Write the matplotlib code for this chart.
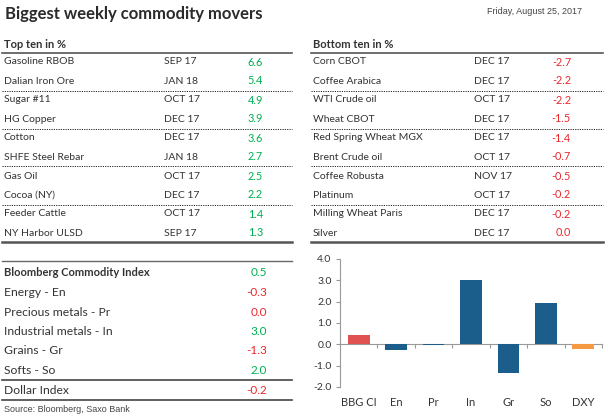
import matplotlib
matplotlib.use("Agg")
import matplotlib.pyplot as plt
from matplotlib.lines import Line2D

W, H = 608, 417

top_names = ["Gasoline RBOB", "Dalian Iron Ore", "Sugar #11", "HG Copper", "Cotton",
             "SHFE Steel Rebar", "Gas Oil", "Cocoa (NY)", "Feeder Cattle", "NY Harbor ULSD"]
top_dates = ["SEP 17", "JAN 18", "OCT 17", "DEC 17", "DEC 17",
             "JAN 18", "OCT 17", "DEC 17", "OCT 17", "SEP 17"]
top_values = [6.6, 5.4, 4.9, 3.9, 3.6, 2.7, 2.5, 2.2, 1.4, 1.3]

bottom_names = ["Corn CBOT", "Coffee Arabica", "WTI Crude oil", "Wheat CBOT",
                "Red Spring Wheat MGX", "Brent Crude oil", "Coffee Robusta", "Platinum",
                "Milling Wheat Paris", "Silver"]
bottom_dates = ["DEC 17", "DEC 17", "OCT 17", "DEC 17", "DEC 17",
                "OCT 17", "NOV 17", "OCT 17", "DEC 17", "DEC 17"]
bottom_values = [-2.7, -2.2, -2.2, -1.5, -1.4, -0.7, -0.5, -0.2, -0.2, 0.0]

index_names = ["Bloomberg Commodity Index", "Energy - En", "Precious metals - Pr",
               "Industrial metals - In", "Grains - Gr", "Softs - So", "Dollar Index"]
index_values = [0.5, -0.3, 0.0, 3.0, -1.3, 2.0, -0.2]

bar_labels = ["BBG CI", "En", "Pr", "In", "Gr", "So", "DXY"]
bar_values = [0.45, -0.28, -0.05, 3.0, -1.33, 1.95, -0.22]
bar_colors = ["#e05252", "#1b5e8c", "#1b5e8c", "#1b5e8c", "#1b5e8c", "#1b5e8c", "#f59a42"]

GREEN = "#00b050"
RED = "#e8282e"
TXT = "#333333"
FONT = "Lato"

fig = plt.figure(figsize=(W / 100, H / 100), dpi=100)


def fx(x):
    return x / W


def fy(y):
    return 1 - y / H


def text(x, y, s, **kw):
    kw.setdefault("family", FONT)
    kw.setdefault("color", TXT)
    kw.setdefault("va", "center")
    fig.text(fx(x), fy(y), s, **kw)


def hline(x0, x1, y, **kw):
    fig.add_artist(Line2D([fx(x0), fx(x1)], [fy(y), fy(y)], transform=fig.transFigure, **kw))


# title and date
text(5, 14, "Biggest weekly commodity movers", size=12, weight="bold", color="#2b2b2b")
text(487, 12, "Friday, August 25, 2017", size=6.5, family="Liberation Sans", color="#444444")


def movers_table(x0, x1, xdate, xval, title, names, dates, values, col):
    text(x0 + 2, 44, title, size=8, weight="bold")
    hline(x0, x1, 53, color="#555555", lw=1.2)
    for i, (n, d, v) in enumerate(zip(names, dates, values)):
        y = 62 + i * 19
        text(x0 + 2, y, n, size=7.5)
        text(xdate, y, d, size=7.5)
        text(xval, y, "%.1f" % v, size=7.8, color=col, ha="right")
        if i % 2 == 1 and i < 9:
            hline(x0, x1, y + 9.5, color="#222222", lw=0.7, ls=(0, (1.2, 1.2)))
    hline(x0, x1, 242, color="#555555", lw=1.8)


movers_table(2, 292, 164, 263, "Top ten in %", top_names, top_dates, top_values, GREEN)
movers_table(311, 603, 474, 571, "Bottom ten in %", bottom_names, bottom_dates, bottom_values, RED)

# index table
hline(2, 292, 261, color="#666666", lw=1.0)
for i, (n, v) in enumerate(zip(index_names, index_values)):
    y = 273 + i * 19.5 if i < 6 else 390
    col = RED if v < 0 or n == "Precious metals - Pr" else GREEN
    if i == 0:
        text(4, y, n, size=8, weight="bold")
    else:
        text(4, y, n, size=8.7)
    text(267, y, "%.1f" % v, size=8.5, color=col, ha="right")
hline(2, 292, 380, color="#444444", lw=1.2)
hline(2, 292, 400, color="#444444", lw=1.2)
text(4, 410, "Source: Bloomberg, Saxo Bank", size=6.5, family="Liberation Sans", color="#444444")

# bar chart
ax = fig.add_axes([fx(340), fy(387), (602 - 340) / W, (387 - 259) / H])
xs = list(range(len(bar_values)))
ax.bar(xs, bar_values, width=0.58, color=bar_colors, zorder=3)
ax.set_ylim(-2, 4)
ax.set_xlim(-0.5, len(bar_values) - 0.5)
ax.set_yticks([-2, -1, 0, 1, 2, 3, 4])
ax.set_yticklabels(["%.1f" % t for t in [-2, -1, 0, 1, 2, 3, 4]], family=FONT, size=7.5, color=TXT)
ax.tick_params(axis="y", length=3, color="#999999", pad=3)
for s in ["top", "right"]:
    ax.spines[s].set_visible(False)
ax.spines["left"].set_color("#999999")
ax.spines["bottom"].set_position(("data", 0))
ax.spines["bottom"].set_color("#999999")
ax.set_xticks([x + 0.5 for x in xs])
ax.set_xticklabels([])
ax.tick_params(axis="x", length=3, color="#999999", direction="out")
for x, lab in zip(xs, bar_labels):
    ax.text(x, -2.45, lab, ha="center", va="top", family=FONT, size=8, color=TXT)

fig.savefig("out.png", dpi=100)
